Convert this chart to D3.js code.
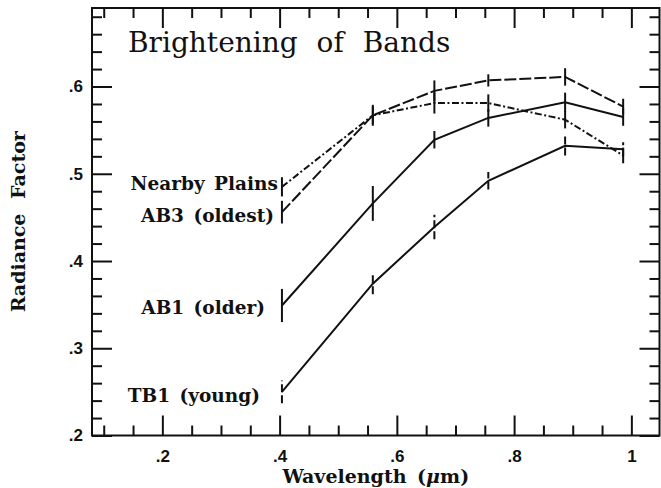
<!DOCTYPE html>
<html>
<head>
<meta charset="utf-8">
<script src="https://cdn.jsdelivr.net/npm/d3@7"></script>
<style>
  html, body { margin: 0; padding: 0; background: #fff; }
  svg { display: block; }
  .tick text { font-family: "Liberation Sans", Arial, sans-serif; font-weight: bold; font-size: 17px; fill: #111; }
  .tick line { stroke: #111; stroke-width: 2; }
</style>
</head>
<body>
<div id="chart"></div>
<script>
// Galileo SSI filter wavelengths (micrometres)
const wavelengths = [0.404, 0.559, 0.664, 0.756, 0.887, 0.986];

const seriesNames = ['Nearby Plains', 'AB3 (oldest)', 'AB1 (older)', 'TB1 (young)'];

const plainsValues = [0.485, 0.567, 0.581, 0.581, 0.562, 0.521];
const plainsErrors = [0.011, 0.010, 0.012, 0.010, 0.010, 0.009];

const ab3Values = [0.456, 0.567, 0.595, 0.607, 0.611, 0.577];
const ab3Errors = [0.013, 0.012, 0.012, 0.007, 0.010, 0.009];

const ab1Values = [0.349, 0.466, 0.539, 0.564, 0.582, 0.565];
const ab1Errors = [0.019, 0.020, 0.010, 0.010, 0.011, 0.010];

const tb1Values = [0.250, 0.374, 0.439, 0.492, 0.532, 0.528];
const tb1Errors = [0.013, 0.012, 0.014, 0.010, 0.011, 0.008];

const xMajorTicks = [0.2, 0.4, 0.6, 0.8, 1.0];
const yMajorTicks = [0.2, 0.3, 0.4, 0.5, 0.6];

const titleText = 'Brightening of Bands';

const width = 661;
const height = 488;
const margin = { top: 8, right: 1, bottom: 52.5, left: 92 };

const series = [
  { name: seriesNames[0], values: plainsValues, errors: plainsErrors, dash: '7,2.5,2,2.5', barDash: null },
  { name: seriesNames[1], values: ab3Values, errors: ab3Errors, dash: '12,3', barDash: null },
  { name: seriesNames[2], values: ab1Values, errors: ab1Errors, dash: null, barDash: null },
  { name: seriesNames[3], values: tb1Values, errors: tb1Errors, dash: null, barDash: '8,3' },
];

// where each series label sits relative to its first point
const labelOffsets = [
  { dx: -4, dy: 3 },
  { dx: -8, dy: 10 },
  { dx: -17, dy: 8 },
  { dx: -22, dy: 10 },
];

const x = d3.scaleLinear()
  .domain([0.08, 1.048])
  .range([margin.left, width - margin.right - 0.5]);

const y = d3.scaleLinear()
  .domain([0.2, 0.69])
  .range([height - margin.bottom, margin.top]);

const xMinorTicks = d3.range(0.1, 1.0001, 0.05).filter((v) => !xMajorTicks.some((m) => Math.abs(m - v) < 1e-6));
const yMinorTicks = d3.range(0.2, 0.6801, 0.02).filter((v) => !yMajorTicks.some((m) => Math.abs(m - v) < 1e-6));

const fmt = (d) => (d >= 1 ? d3.format('d')(d) : d3.format('.1f')(d).replace(/^0/, ''));

const svg = d3.select('#chart')
  .append('svg')
  .attr('width', width)
  .attr('height', height);

const x0 = x.range()[0];
const x1 = x.range()[1];
const y0 = y.range()[0];
const y1 = y.range()[1];

// axes, ticks pointing inward on all four sides
const addAxis = (axis, transform) => {
  const g = svg.append('g').attr('transform', transform).call(axis);
  g.select('.domain').remove();
  return g;
};

addAxis(d3.axisBottom(x).tickValues(xMinorTicks).tickSize(-10).tickFormat(''), `translate(0,${y0})`);
addAxis(d3.axisBottom(x).tickValues(xMajorTicks).tickSize(-20).tickPadding(14).tickFormat(fmt), `translate(0,${y0})`);
addAxis(d3.axisTop(x).tickValues(xMinorTicks).tickSize(-10).tickFormat(''), `translate(0,${y1})`);
addAxis(d3.axisTop(x).tickValues(xMajorTicks).tickSize(-20).tickFormat(''), `translate(0,${y1})`);

addAxis(d3.axisLeft(y).tickValues(yMinorTicks).tickSize(-10).tickFormat(''), `translate(${x0},0)`);
addAxis(d3.axisLeft(y).tickValues(yMajorTicks).tickSize(-20).tickPadding(9).tickFormat(fmt), `translate(${x0},0)`);
addAxis(d3.axisRight(y).tickValues(yMinorTicks).tickSize(-10).tickFormat(''), `translate(${x1},0)`);
addAxis(d3.axisRight(y).tickValues(yMajorTicks).tickSize(-20).tickFormat(''), `translate(${x1},0)`);

// frame
svg.append('rect')
  .attr('x', x0)
  .attr('y', y1)
  .attr('width', x1 - x0)
  .attr('height', y0 - y1)
  .attr('fill', 'none')
  .attr('stroke', '#111')
  .attr('stroke-width', 2);

// title
svg.append('text')
  .attr('x', 128)
  .attr('y', 52)
  .attr('font-family', '"DejaVu Serif", serif')
  .attr('font-size', 28)
  .attr('word-spacing', 10)
  .attr('fill', '#111')
  .text(titleText);

// axis titles
svg.append('text')
  .attr('x', (x0 + x1) / 2)
  .attr('y', 482.5)
  .attr('text-anchor', 'middle')
  .attr('font-family', '"DejaVu Serif", serif')
  .attr('font-weight', 'bold')
  .attr('font-size', 19)
  .attr('word-spacing', 4)
  .attr('fill', '#111')
  .call((t) => {
    t.append('tspan').text('Wavelength (');
    t.append('tspan').attr('font-style', 'italic').text('\u03bc');
    t.append('tspan').text('m)');
  });

svg.append('text')
  .attr('transform', `translate(25,${(y0 + y1) / 2}) rotate(-90)`)
  .attr('text-anchor', 'middle')
  .attr('font-family', '"DejaVu Serif", serif')
  .attr('font-weight', 'bold')
  .attr('font-size', 19)
  .attr('word-spacing', 8)
  .attr('fill', '#111')
  .text('Radiance Factor');

// lines
const line = d3.line()
  .x((d, i) => x(wavelengths[i]))
  .y((d) => y(d));

const groups = svg.append('g')
  .selectAll('g.series')
  .data(series)
  .join('g')
  .attr('class', 'series');

groups.append('path')
  .attr('d', (d) => line(d.values))
  .attr('fill', 'none')
  .attr('stroke', '#111')
  .attr('stroke-width', 2)
  .attr('stroke-dasharray', (d) => d.dash);

// error bars
groups.selectAll('line.err')
  .data((d) => d.values.map((v, i) => ({ v, e: d.errors[i], w: wavelengths[i], dash: d.barDash })))
  .join('line')
  .attr('class', 'err')
  .attr('x1', (d) => x(d.w))
  .attr('x2', (d) => x(d.w))
  .attr('y1', (d) => y(d.v - d.e))
  .attr('y2', (d) => y(d.v + d.e))
  .attr('stroke', '#111')
  .attr('stroke-width', 2)
  .attr('stroke-dasharray', (d) => d.dash);

// series labels at the left end
groups.append('text')
  .attr('x', (d, i) => x(wavelengths[0]) + labelOffsets[i].dx)
  .attr('y', (d, i) => y(d.values[0]) + labelOffsets[i].dy)
  .attr('text-anchor', 'end')
  .attr('font-family', '"DejaVu Serif", serif')
  .attr('font-weight', 'bold')
  .attr('font-size', 18.5)
  .attr('word-spacing', 3)
  .attr('fill', '#111')
  .text((d) => d.name);
</script>
</body>
</html>
